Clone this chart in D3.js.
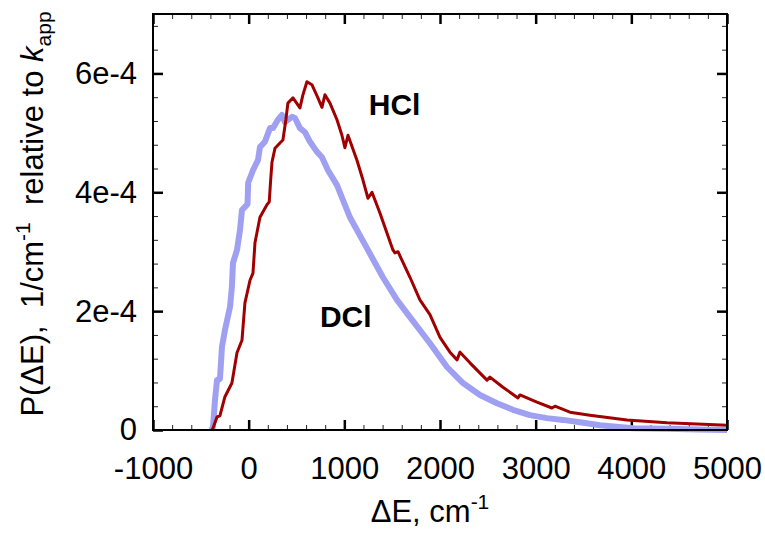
<!DOCTYPE html>
<html>
<head>
<meta charset="utf-8">
<script src="https://cdn.jsdelivr.net/npm/d3@7"></script>
<style>
  body { margin: 0; background: #fff; }
  text { font-family: "Liberation Sans", Arial, sans-serif; }
</style>
</head>
<body>
<div id="svgBody"></div>
<script>
// energy transfer ΔE (cm-1) and probability (in units of 1e-4)
var hclE = [-383, -373, -331, -300, -248, -175, -122, -70, -39, 14, 45, 66, 118, 191, 215, 230, 244, 275, 327, 358,
            389, 410, 463, 536, 567, 609, 661, 724, 766, 797, 850, 923, 975, 1006, 1038, 1132, 1194, 1247, 1289, 1372,
            1508, 1529, 1561, 1686, 1790, 1895, 2000, 2104, 2178, 2209, 2313, 2491, 2522, 2658, 2815, 2836, 3013, 3170,
            3202, 3358, 3567, 3954, 4373, 5000];
var hclP = [0, 0.03, 0.22, 0.24, 0.56, 0.79, 1.30, 1.51, 2.14, 2.52, 2.64, 3.15, 3.58, 3.79, 3.84, 4.21, 4.51, 4.74, 4.83, 4.88,
            5.22, 5.50, 5.59, 5.42, 5.64, 5.86, 5.81, 5.59, 5.43, 5.64, 5.50, 5.22, 4.96, 4.75, 4.96, 4.54, 4.21, 3.90, 4.00, 3.65,
            3.03, 2.98, 3.00, 2.57, 2.19, 1.94, 1.56, 1.31, 1.18, 1.31, 1.13, 0.84, 0.89, 0.72, 0.54, 0.59, 0.47, 0.37,
            0.40, 0.30, 0.25, 0.17, 0.12, 0.08];

var dclE = [-390, -373, -352, -331, -300, -279, -248, -195, -175, -164, -122, -91, -70, -12, -5, 45, 97, 118, 170, 223,
            254, 306, 348, 379, 453, 484, 536, 589, 641, 714, 766, 829, 923, 1058, 1236, 1403, 1550, 1686, 1895, 2073,
            2240, 2418, 2595, 2763, 2940, 3118, 3285, 3463, 3672, 4017, 4373, 4700, 5000];
var dclP = [0, 0.05, 0.50, 0.84, 0.86, 1.40, 1.68, 2.07, 2.41, 2.81, 3.03, 3.36, 3.70, 3.80, 4.16, 4.37, 4.54, 4.76, 4.85, 5.08,
            5.08, 5.22, 5.30, 5.18, 5.27, 5.25, 5.08, 5.01, 4.85, 4.68, 4.59, 4.37, 4.12, 3.58, 3.06, 2.57, 2.19, 1.90, 1.46, 1.06,
            0.79, 0.59, 0.45, 0.34, 0.25, 0.20, 0.17, 0.13, 0.08, 0.03, 0.02, 0.01, 0];

var xTicks = [-1000, 0, 1000, 2000, 3000, 4000, 5000];
var yTicks = [0, 2e-4, 4e-4, 6e-4];
var unit = 1e-4;

var margin = {top: 14, right: 38, bottom: 105, left: 153},
    width = 765 - margin.left - margin.right,
    height = 535 - margin.top - margin.bottom;

var svg = d3.select("#svgBody")
    .append("svg")
    .attr("width", 765)
    .attr("height", 535)
    .append("g")
    .attr("transform", "translate(" + margin.left + "," + margin.top + ")");

var x = d3.scaleLinear().domain([-1000, 5000]).range([0, width]);
var y = d3.scaleLinear().domain([0, 7e-4]).range([height, 0]);

var minorX = d3.range(-1000, 5001, 200);
var minorY = d3.range(0, 7.01e-4, 0.4e-4);

function yFmt(d) { return d === 0 ? "0" : d3.format(".0e")(d).replace("\u2212", "-"); }
function xFmt(d) { return String(d); }

// minor ticks, all four sides, pointing inward
svg.append("g").attr("class", "minor").attr("transform", "translate(0," + height + ")")
    .call(d3.axisBottom(x).tickValues(minorX).tickSize(-5).tickFormat(""));
svg.append("g").attr("class", "minor")
    .call(d3.axisTop(x).tickValues(minorX).tickSize(-5).tickFormat(""));
svg.append("g").attr("class", "minor")
    .call(d3.axisLeft(y).tickValues(minorY).tickSize(-5).tickFormat(""));
svg.append("g").attr("class", "minor").attr("transform", "translate(" + width + ",0)")
    .call(d3.axisRight(y).tickValues(minorY).tickSize(-5).tickFormat(""));

// major ticks with labels
var xAxis = svg.append("g").attr("class", "major").attr("transform", "translate(0," + height + ")")
    .call(d3.axisBottom(x).tickValues(xTicks).tickSize(-10).tickPadding(27).tickFormat(xFmt));
svg.append("g").attr("class", "major")
    .call(d3.axisTop(x).tickValues(xTicks).tickSize(-10).tickFormat(""));
var yAxis = svg.append("g").attr("class", "major")
    .call(d3.axisLeft(y).tickValues(yTicks).tickSize(-10).tickPadding(16).tickFormat(yFmt));
svg.append("g").attr("class", "major").attr("transform", "translate(" + width + ",0)")
    .call(d3.axisRight(y).tickValues(yTicks).tickSize(-10).tickFormat(""));

svg.selectAll(".minor line").attr("stroke", "#222").attr("stroke-width", 1);
svg.selectAll(".major line").attr("stroke", "#000").attr("stroke-width", 2.5);
svg.selectAll(".domain").remove();
svg.selectAll(".major text")
    .attr("font-family", "Liberation Sans, Arial, sans-serif")
    .attr("font-size", "31px")
    .attr("fill", "#000");

// curves
var line = d3.line()
    .x(function(d) { return x(d[0]); })
    .y(function(d) { return y(d[1] * unit); });

var dcl = dclE.map(function(e, i) { return [e, dclP[i]]; });
var hcl = hclE.map(function(e, i) { return [e, hclP[i]]; });

svg.append("path")
    .datum(dcl)
    .attr("d", line)
    .attr("fill", "none")
    .attr("stroke", "#a0a0f2")
    .attr("stroke-width", 6)
    .attr("stroke-linejoin", "round");

svg.append("path")
    .datum(hcl)
    .attr("d", line)
    .attr("fill", "none")
    .attr("stroke", "#a00000")
    .attr("stroke-width", 3)
    .attr("stroke-linejoin", "round");

// frame
svg.append("rect")
    .attr("width", width)
    .attr("height", height)
    .attr("fill", "none")
    .attr("stroke", "#000")
    .attr("stroke-width", 2);

// curve labels
svg.append("text")
    .attr("x", x(1255))
    .attr("y", y(5.3e-4))
    .attr("font-size", "30px")
    .attr("font-weight", "bold")
    .text("HCl");

svg.append("text")
    .attr("x", x(745))
    .attr("y", y(1.73e-4))
    .attr("font-size", "30px")
    .attr("font-weight", "bold")
    .text("DCl");

// x axis title
var xt = svg.append("text")
    .attr("x", width / 2 - 10)
    .attr("y", height + 92)
    .attr("text-anchor", "middle")
    .attr("font-size", "31px");
xt.append("tspan").text("\u0394E, cm");
xt.append("tspan").attr("dy", -13).attr("font-size", "21px").text("-1");

// y axis title
var yt = svg.append("text")
    .attr("transform", "rotate(-90)")
    .attr("x", -(height / 2) + 8)
    .attr("y", -110)
    .attr("text-anchor", "middle")
    .attr("font-size", "31px")
    .style("white-space", "pre");
yt.append("tspan").text("P(\u0394E),  1/cm");
yt.append("tspan").attr("dy", -13).attr("font-size", "21px").text("-1");
yt.append("tspan").attr("dy", 13).text("  relative to ");
yt.append("tspan").attr("font-style", "italic").text("k");
yt.append("tspan").attr("dy", 8).attr("font-size", "21px").text("app");
</script>
</body>
</html>
